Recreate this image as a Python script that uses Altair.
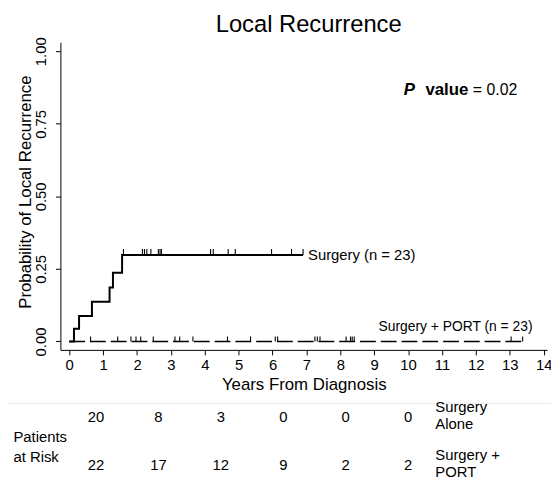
import altair as alt
import pandas as pd

FONT = "Liberation Sans"

# Surgery alone: cumulative probability of local recurrence (step curve)
surg_t = [0, 0.14, 0.29, 0.67, 1.19, 1.29, 1.56, 6.90]
surg_p = [0, 0.044, 0.088, 0.137, 0.186, 0.237, 0.298, 0.298]
surg_cens = [1.60, 2.16, 2.22, 2.29, 2.41, 2.63, 2.68, 2.72, 4.17, 4.25, 4.69, 4.90, 5.97, 6.56, 6.90]

# Surgery + PORT: no recurrences
port_t = [0, 13.38]
port_p = [0, 0]
port_cens = [0.63, 1.43, 1.82, 1.97, 2.11, 2.48, 3.12, 3.26, 3.65, 4.67, 5.35, 6.08, 6.15,
             7.25, 7.32, 7.40, 8.17, 8.30, 8.35, 8.41, 13.04, 13.38]

# Patients at risk
risk_years = [1, 3, 5, 7, 9, 11]
risk_surg = [20, 8, 3, 0, 0, 0]
risk_port = [22, 17, 12, 9, 2, 2]
row_names = ["Surgery Alone", "Surgery + PORT"]
row_labels = ["Surgery\nAlone", "Surgery +\nPORT"]

x_ticks = list(range(0, 15))
y_ticks = [0, 0.25, 0.5, 0.75, 1.0]

surg_df = pd.DataFrame({"t": surg_t, "p": surg_p})
surg_c_df = pd.DataFrame({"t": surg_cens, "p": [surg_p[-1]] * len(surg_cens)})
port_df = pd.DataFrame({"t": port_t, "p": port_p})
port_c_df = pd.DataFrame({"t": port_cens, "p": [0] * len(port_cens)})

x_scale = alt.Scale(domain=[-0.26, 14.1], nice=False, zero=False)
y_scale = alt.Scale(domain=[-0.029, 1.031], nice=False, zero=False)

x_axis = alt.Axis(
    values=x_ticks, format="d", title="Years From Diagnosis", grid=False, labelOverlap=False,
    tickSize=5, labelPadding=3, titlePadding=4, labelFontSize=15, titleFontSize=17,
    labelFont=FONT, titleFont=FONT, titleFontWeight="normal", labelFlush=False,
    domainColor="black", tickColor="black", labelColor="black", titleColor="black")
y_axis = alt.Axis(
    values=y_ticks, format=".2f", title="Probability of Local Recurrence", grid=False, labelOverlap=False,
    tickSize=5, labelPadding=7, titlePadding=-1, labelFontSize=15, titleFontSize=17, titleY=151,
    labelAngle=-90, labelAlign="center", labelBaseline="bottom",
    labelFont=FONT, titleFont=FONT, titleFontWeight="normal", labelFlush=False,
    domainColor="black", tickColor="black", labelColor="black", titleColor="black")


def xe():
    return alt.X("t:Q", scale=x_scale, axis=x_axis)


def ye():
    return alt.Y("p:Q", scale=y_scale, axis=y_axis)


surg_line = alt.Chart(surg_df).mark_line(interpolate="step-after", color="black", strokeWidth=2).encode(x=xe(), y=ye())
port_line = alt.Chart(port_df).mark_line(color="black", strokeWidth=1.6, strokeDash=[16, 5]).encode(x=xe(), y=ye())
surg_ticks = alt.Chart(surg_c_df).mark_rule(color="black", strokeWidth=1.1, y2Offset=-6).encode(
    x=xe(), y=ye(), y2=alt.Y2("p:Q"))
port_ticks = alt.Chart(port_c_df).mark_rule(color="black", strokeWidth=1.1, y2Offset=-5).encode(
    x=xe(), y=ye(), y2=alt.Y2("p:Q"))

surg_lab = alt.Chart(pd.DataFrame({"t": [surg_t[-1]], "p": [surg_p[-1]], "lab": ["Surgery (n = 23)"]})).mark_text(
    align="left", baseline="middle", dx=5, font=FONT, fontSize=15, color="black").encode(x=xe(), y=ye(), text="lab:N")
port_lab = alt.Chart(pd.DataFrame({"t": [port_t[-1]], "p": [port_p[-1]], "lab": ["Surgery + PORT (n = 23)"]})).mark_text(
    align="right", baseline="middle", dx=10, dy=-15, font=FONT, fontSize=14, color="black").encode(x=xe(), y=ye(), text="lab:N")

one = pd.DataFrame({"k": [0]})
p_p = alt.Chart(one).mark_text(align="left", baseline="alphabetic", font=FONT, fontSize=17, fontWeight="bold",
                               fontStyle="italic", color="black", text="P").encode(x=alt.value(347), y=alt.value(53.5))
p_v = alt.Chart(one).mark_text(align="left", baseline="alphabetic", font=FONT, fontSize=17, fontWeight="bold",
                               color="black", text="value").encode(x=alt.value(369), y=alt.value(53.5))
p_n = alt.Chart(one).mark_text(align="left", baseline="alphabetic", font=FONT, fontSize=16,
                               color="black", text="= 0.02").encode(x=alt.value(417), y=alt.value(53.5))

main = alt.layer(surg_line, port_line, port_ticks, surg_ticks, surg_lab, port_lab, p_p, p_v, p_n)

# Patients-at-risk table
tab_df = pd.DataFrame({"year": risk_years * 2,
                       "row": [row_names[0]] * len(risk_years) + [row_names[1]] * len(risk_years),
                       "n": risk_surg + risk_port})
tx = alt.X("year:Q", scale=alt.Scale(domain=[1, 11], range=[36, 351.5], nice=False, zero=False), axis=None)
ty = alt.Y("row:N", scale=alt.Scale(type="point", domain=row_names, range=[378.5, 427.5], padding=0), axis=None)
nums = alt.Chart(tab_df).mark_text(font=FONT, fontSize=15, color="black", baseline="middle").encode(
    x=tx, y=ty, text="n:Q")
rlab = alt.Chart(pd.DataFrame({"row": row_names, "lab": row_labels})).mark_text(
    font=FONT, fontSize=15, color="black", align="left", baseline="middle", lineBreak="\n", lineHeight=17.5,
    dy=-10).encode(x=alt.value(379), y=alt.Y("row:N"), text="lab:N")
par = alt.Chart(pd.DataFrame({"lab": ["Patients\nat Risk"]})).mark_text(
    font=FONT, fontSize=15, color="black", align="left", baseline="middle", lineBreak="\n", lineHeight=20).encode(
    x=alt.value(-47.5), y=alt.value(399.5), text="lab:N")
sep = alt.Chart(one).mark_rule(color="#ebebeb", strokeWidth=1).encode(
    x=alt.value(-53), x2=alt.value(496), y=alt.value(365))
table = alt.layer(sep, nums, rlab, par)

chart = alt.layer(main, table).resolve_scale(x="independent", y="independent").properties(
    width=492, height=311,
    autosize=alt.AutoSizeParams(type="none"),
    padding={"left": 53, "top": 32, "right": 4, "bottom": 137},
    title=alt.TitleParams("Local Recurrence", font=FONT, fontSize=24, fontWeight="normal",
                          color="black", anchor="middle", offset=0, dx=5),
).configure_view(stroke=None)

chart.save("out.html", embed_options={"renderer": "svg", "actions": False})
